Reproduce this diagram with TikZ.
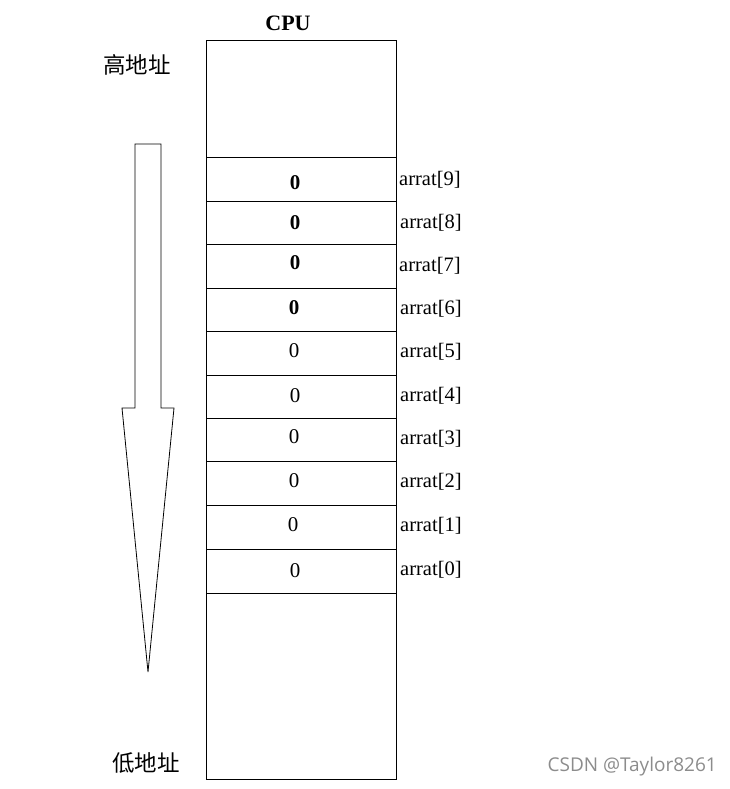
\documentclass[tikz,border=0pt]{standalone}
\usepackage{fontspec}
\setmainfont{Liberation Serif}
\newfontfamily\cjk{Noto Sans CJK SC}
\newfontfamily\wm{Open Sans}
\begin{document}
\begin{tikzpicture}[x=1pt,y=-1pt,
  cell/.style={draw=black,line width=0.8pt},
  val/.style={font=\fontsize{21}{21}\selectfont,inner sep=0pt},
  bval/.style={font=\fontsize{21}{21}\selectfont\bfseries,inner sep=0pt},
  lab/.style={font=\fontsize{20.5}{20.5}\selectfont,anchor=west,inner sep=0pt},
  cn/.style={font=\fontsize{22.5}{22.5}\selectfont\cjk,inner sep=0pt}]
\useasboundingbox (0,0) rectangle (729,789);
% column
\draw[cell] (206,40) rectangle (396,779);
\foreach \y in {157,201,244,288,331,375,418,461,505,549,593}
  \draw[cell] (206,\y) -- (396,\y);
% arrow
\draw[line width=0.8pt] (135,144) -- (161,144) -- (161,408) -- (174,408) -- (148,672) -- (122,408) -- (135,408) -- cycle;
% titles
\node[font=\fontsize{22}{22}\selectfont\bfseries,inner sep=0pt] (cpu) at (288,23) {CPU};
\node[cn] (hi) at (137,65) {高地址};
\node[cn] (lo) at (146,763) {低地址};
% values
\node[bval] (v9) at (295,183) {0};
\node[bval] (v8) at (295,223) {0};
\node[bval] (v7) at (295,263) {0};
\node[bval] (v6) at (294,308) {0};
\node[val] (v5) at (294,351) {0};
\node[val] (v4) at (295,396) {0};
\node[val] (v3) at (294,437) {0};
\node[val] (v2) at (294,481) {0};
\node[val] (v1) at (293,525) {0};
\node[val] (v0) at (295,571) {0};
% labels
\node[lab] (a9) at (399,180) {arrat[9]};
\node[lab] (a8) at (400,223) {arrat[8]};
\node[lab] (a7) at (399,266) {arrat[7]};
\node[lab] (a6) at (400,309) {arrat[6]};
\node[lab] (a5) at (400,352) {arrat[5]};
\node[lab] (a4) at (400,396) {arrat[4]};
\node[lab] (a3) at (400,439) {arrat[3]};
\node[lab] (a2) at (400,482) {arrat[2]};
\node[lab] (a1) at (400,526) {arrat[1]};
\node[lab] (a0) at (400,570) {arrat[0]};
% watermark
\node[font=\fontsize{19}{19}\selectfont\wm,text=black!45,anchor=east,inner sep=0pt] (wm) at (717,767) {CSDN @Taylor8261};
\end{tikzpicture}
\end{document}
